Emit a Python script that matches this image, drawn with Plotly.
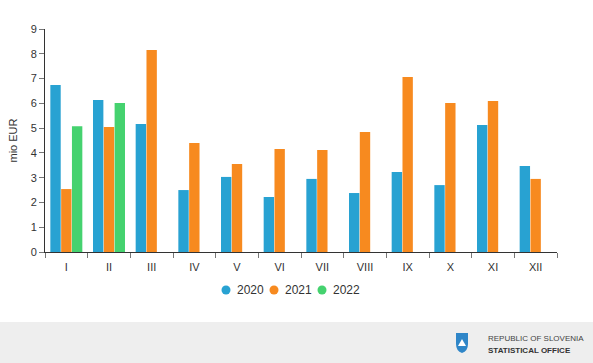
import plotly.graph_objects as go

months = ["I", "II", "III", "IV", "V", "VI", "VII", "VIII", "IX", "X", "XI", "XII"]
v2020 = [6.74, 6.13, 5.17, 2.50, 3.03, 2.22, 2.95, 2.38, 3.23, 2.70, 5.13, 3.47]
v2021 = [2.54, 5.04, 8.15, 4.40, 3.55, 4.16, 4.12, 4.84, 7.06, 6.01, 6.09, 2.95]
v2022 = [5.08, 6.01, None, None, None, None, None, None, None, None, None, None]
series_names = ["2020", "2021", "2022"]
colors = ["#28a2d2", "#f78a1f", "#45d26f"]

W, H = 593, 363
L, R, T, B = 45, 36, 29, 111
pw, ph = W - L - R, H - T - B

def px_x(p):
    return (p - L) / pw

def px_y(p):
    return (H - B - p) / ph

fig = go.Figure()
for name, vals, c in zip(series_names, [v2020, v2021, v2022], colors):
    fig.add_trace(go.Bar(x=months, y=vals, name=name, marker=dict(color=c, line=dict(width=0)),
                         showlegend=False))

shapes = [
    dict(type="rect", xref="paper", yref="paper", x0=px_x(0), x1=px_x(W), y0=px_y(H), y1=px_y(322),
         fillcolor="#eeeeee", line=dict(width=0), layer="below"),
    dict(type="path", xref="paper", yref="paper",
         path="M {a},{b} L {c},{b} L {c},{d} Q {c},{e} {m},{f} Q {a},{e} {a},{d} Z".format(
             a=px_x(456), c=px_x(468), b=px_y(333), d=px_y(344), e=px_y(351), m=px_x(462), f=px_y(353)),
         fillcolor="#2f86c8", line=dict(width=0)),
    dict(type="path", xref="paper", yref="paper",
         path="M {a},{b} L {m},{t} L {c},{b} Z".format(
             a=px_x(458), c=px_x(466), b=px_y(346), m=px_x(462), t=px_y(339)),
         fillcolor="white", line=dict(width=0)),
]
annotations = [
    dict(text="REPUBLIC OF SLOVENIA", xref="paper", yref="paper", x=px_x(486), y=px_y(338),
         xanchor="left", yanchor="middle", showarrow=False,
         font=dict(size=8, color="#444444")),
    dict(text="<b>STATISTICAL OFFICE</b>", xref="paper", yref="paper", x=px_x(486), y=px_y(350),
         xanchor="left", yanchor="middle", showarrow=False,
         font=dict(size=8, color="#333333")),
]
# legend drawn manually (circle + label)
for i, (name, c) in enumerate(zip(series_names, colors)):
    cx = 226 + 48 * i
    shapes.append(dict(type="circle", xref="paper", yref="paper",
                       x0=px_x(cx - 4.5), x1=px_x(cx + 4.5), y0=px_y(294.5), y1=px_y(285.5),
                       fillcolor=c, line=dict(width=0)))
    annotations.append(dict(text=name, xref="paper", yref="paper", x=px_x(cx + 9), y=px_y(290),
                            xanchor="left", yanchor="middle", showarrow=False,
                            font=dict(size=12, color="#333333")))

fig.update_layout(
    width=W, height=H,
    margin=dict(l=L, r=R, t=T, b=B, autoexpand=False),
    paper_bgcolor="white", plot_bgcolor="white",
    font=dict(family="Liberation Sans, Arial, sans-serif", size=11, color="#333333"),
    barmode="group", bargap=0.24, bargroupgap=0.04,
    showlegend=False,
    xaxis=dict(type="category", showline=True, linecolor="#333333", linewidth=1,
               ticks="outside", tickson="boundaries", ticklen=5, tickcolor="#777777",
               ticklabelstandoff=5,
               tickfont=dict(size=11, color="#333333"), showgrid=False, zeroline=False),
    yaxis=dict(range=[0, 9], dtick=1, showline=True, linecolor="#333333", linewidth=1,
               ticks="outside", ticklen=5, tickcolor="#777777", showgrid=False, zeroline=False,
               tickfont=dict(size=11, color="#333333"),
               title=dict(text="mio EUR", font=dict(size=11, color="#333333"), standoff=10)),
    shapes=shapes,
    annotations=annotations,
)

fig.write_html("out.html", config={"displayModeBar": False},
               post_script="document.body.style.margin='0';document.body.style.overflow='hidden';")
